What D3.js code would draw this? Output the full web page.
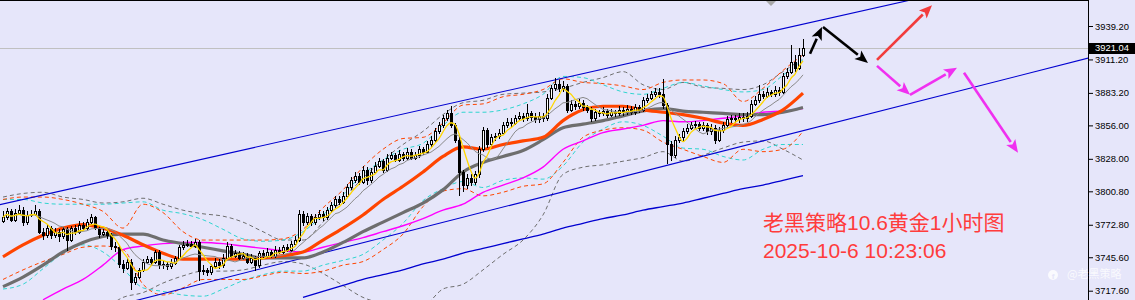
<!DOCTYPE html>
<html><head><meta charset="utf-8">
<script src="https://cdn.jsdelivr.net/npm/d3@7"></script>
<style>body{margin:0;background:#E6E6FA;overflow:hidden}svg{display:block}</style>
</head><body><svg id="c" width="1135" height="300"></svg>
<script>
// ---------- DATA ----------
const firstOpen = 3776;
const closes = [
3779,3784,3777,3783,3785,3775,3781,3782,3784,3767,
3764,3770,3764,3767,3763,3769,3760,3770,3767,3773,
3770,3775,3779,3770,3765,3767,3764,3755,3754,3740,
3737,3742,3725,3729,3735,3742,3744,3742,3750,3739,
3740,3738,3741,3745,3754,3756,3757,3755,3758,3734,
3735,3733,3738,3742,3739,3745,3755,3747,3749,3745,
3747,3742,3745,3739,3749,3747,3750,3747,3752,3750,
3754,3752,3757,3760,3782,3775,3780,3775,3779,3782,
3779,3785,3789,3794,3792,3797,3804,3810,3814,3809,
3819,3810,3817,3822,3826,3819,3829,3831,3827,3832,
3829,3834,3829,3831,3836,3834,3840,3844,3851,3856,
3862,3866,3856,3844,3817,3806,3812,3809,3815,3836,
3852,3840,3846,3847,3850,3856,3859,3858,3862,3864,
3862,3866,3863,3861,3864,3862,3879,3887,3891,3887,
3889,3869,3874,3872,3875,3871,3869,3862,3867,3866,
3868,3865,3867,3866,3869,3867,3870,3867,3871,3869,
3877,3879,3882,3884,3882,3873,3840,3831,3844,3846,
3851,3854,3856,3857,3854,3856,3851,3854,3844,3852,
3856,3861,3862,3861,3863,3862,3864,3874,3877,3882,
3881,3884,3882,3886,3884,3897,3901,3909,3904,3915,
3921.04];
const highs = [
3784,3787,3786,3786,3789,3788,3784,3785,3789,3786,
3770,3773,3772,3770,3769,3771,3771,3772,3773,3776,
3775,3778,3782,3780,3772,3770,3769,3766,3758,3756,
3743,3745,3744,3732,3737,3744,3747,3746,3752,3752,
3743,3742,3744,3747,3756,3759,3760,3759,3761,3760,
3739,3737,3740,3745,3744,3748,3758,3757,3752,3751,
3750,3749,3748,3747,3751,3752,3753,3752,3755,3754,
3756,3757,3759,3763,3785,3784,3783,3782,3782,3785,
3784,3788,3792,3797,3797,3800,3807,3813,3817,3816,
3822,3821,3820,3825,3829,3828,3832,3834,3833,3835,
3834,3837,3836,3834,3839,3838,3843,3847,3854,3859,
3865,3869,3872,3858,3846,3819,3815,3815,3818,3839,
3855,3854,3849,3850,3853,3859,3862,3862,3865,3867,
3866,3874,3868,3866,3867,3866,3882,3890,3896,3894,
3893,3891,3877,3876,3878,3877,3873,3871,3870,3869,
3871,3870,3870,3869,3872,3871,3873,3872,3874,3873,
3880,3882,3885,3887,3887,3895,3875,3843,3847,3849,
3854,3857,3859,3860,3859,3859,3858,3857,3856,3855,
3859,3864,3865,3865,3866,3866,3867,3877,3881,3890,
3885,3887,3886,3889,3888,3900,3904,3923,3915,3921,
3928];
const lows = [
3774,3777,3775,3775,3781,3772,3773,3779,3780,3765,
3760,3762,3761,3762,3758,3761,3751,3758,3764,3765,
3768,3768,3773,3768,3762,3763,3761,3752,3750,3737,
3732,3735,3718,3722,3727,3733,3740,3739,3740,3736,
3736,3735,3736,3739,3743,3752,3754,3753,3753,3726,
3731,3730,3731,3736,3736,3737,3743,3745,3745,3743,
3743,3740,3740,3734,3737,3745,3745,3745,3745,3748,
3748,3750,3750,3755,3758,3772,3773,3772,3773,3777,
3776,3777,3783,3787,3789,3790,3795,3802,3808,3806,
3807,3806,3808,3815,3820,3816,3817,3827,3825,3825,
3826,3827,3827,3827,3829,3831,3832,3838,3842,3849,
3854,3860,3854,3841,3797,3800,3803,3805,3806,3812,
3834,3837,3838,3843,3845,3848,3854,3855,3856,3860,
3859,3860,3860,3858,3858,3859,3860,3877,3885,3884,
3884,3866,3867,3869,3870,3868,3866,3859,3860,3863,
3864,3862,3863,3863,3864,3864,3865,3865,3865,3866,
3867,3875,3877,3880,3879,3870,3824,3826,3829,3841,
3843,3849,3852,3853,3851,3851,3848,3848,3840,3842,
3850,3854,3858,3858,3858,3859,3859,3862,3872,3875,
3878,3879,3880,3880,3881,3882,3895,3899,3901,3902,
3913];

// indicator lines, one value every 5 candles
const sampleStep = 5;
const maOrange = [3746,3756,3764,3770,3773,3770,3764,3756,3749,3744,3744,3744,3744,3745,3747,3750,3760,3770,3781,3794,3805,3817,3830,3838,3836,3840,3843,3846,3860,3869,3872,3872,3869,3867,3865,3862,3858,3856,3861,3869,3883];
const maGray = [3721,3729,3739,3750,3758,3763,3765,3765,3760,3757,3754,3751,3748,3745,3745,3745,3750,3758,3767,3775,3783,3791,3802,3817,3825,3830,3835,3844,3854,3857,3860,3864,3868,3870,3868,3867,3866,3865,3865,3867,3871];
const maMagentaStart = 10;
const maMagenta = [3710,3719,3727,3739,3752,3755,3757,3758,3758,3757,3755,3753,3751,3750,3754,3758,3762,3767,3772,3778,3785,3790,3800,3806,3812,3821,3836,3843,3850,3853,3856,3860,3859,3860,3862,3864,3867,3868,3870];
const maBlueStart = 75;
const maBlue = [3712,3717,3722,3727,3731,3735,3740,3744,3749,3753,3757,3761,3765,3770,3774,3778,3781,3785,3788,3791,3795,3799,3803,3806,3810,3814];
const bandOrangeUp = [3794,3796,3796,3794,3790,3784,3770,3790,3783,3767,3760,3760,3760,3760,3761,3769,3787,3802,3821,3836,3845,3846,3858,3873,3874,3880,3882,3886,3895,3892,3891,3889,3886,3892,3894,3894,3891,3876,3887,3902,3915];
const bandOrangeDn = [3727,3735,3742,3748,3754,3755,3752,3723,3714,3720,3727,3727,3727,3730,3733,3732,3734,3739,3742,3752,3765,3788,3801,3803,3797,3800,3805,3807,3825,3846,3852,3854,3852,3842,3836,3830,3825,3836,3834,3836,3851];
const bandCyanUp = [3794,3794,3791,3790,3790,3790,3791,3792,3785,3782,3777,3769,3761,3759,3760,3767,3781,3798,3815,3827,3836,3841,3856,3867,3867,3869,3874,3882,3897,3896,3890,3884,3882,3887,3892,3889,3886,3884,3886,3898,3911];
const bandCyanDn = [3719,3723,3736,3749,3756,3750,3736,3720,3717,3714,3713,3719,3726,3731,3734,3734,3739,3743,3748,3760,3774,3793,3803,3809,3804,3810,3812,3811,3822,3842,3853,3859,3856,3847,3837,3836,3830,3827,3836,3840,3840];
const bandGrayUp = [3796,3799,3800,3796,3794,3791,3792,3795,3790,3785,3782,3780,3775,3767,3760,3760,3775,3794,3812,3827,3840,3851,3865,3875,3877,3882,3883,3884,3887,3892,3896,3901,3890,3886,3892,3888,3887,3886,3890,3901,3912];
const bandGrayDn = [3685,3689,3693,3693,3698,3702,3712,3716,3724,3730,3734,3734,3735,3739,3742,3740,3732,3722,3712,3707,3704,3705,3719,3723,3735,3748,3760,3781,3815,3821,3823,3826,3829,3834,3826,3831,3837,3842,3843,3836,3827];

const yTicks = [3939.20, 3911.20, 3883.20, 3856.00, 3828.00, 3800.80, 3772.80, 3745.60, 3717.60];
const lastPrice = 3921.04;
// trend channel: [candle index, price]
const channelUpper = [[-1, 3789.5], [272, 3994.9]];
const channelLower = [[-1, 3680.2], [272, 3912.9]];
// forecast arrows: [candle index, price] -> [candle index, price]
const arrows = [
  {from:[201.75,3915.9], to:[204.75,3938.4], color:"#000000"},
  {from:[205.0,3938.4], to:[216.25,3908.3], color:"#000000"},
  {from:[218.5,3910.8], to:[232.25,3956.5], color:"#F23C3C"},
  {from:[218.5,3905.8], to:[226.75,3881.6], color:"#F030F0"},
  {from:[226.75,3881.6], to:[238.5,3904.2], color:"#F030F0"},
  {from:[240.25,3900.0], to:[253.75,3833.1], color:"#F030F0"}
];
const title1 = "老黑策略10.6黄金1小时图";
const title2 = "2025-10-6 10:23:06";
const watermark = "@老黑策略";

// ---------- DRAW ----------
const W = 1135, H = 300, axisX = 1088;
const svg = d3.select("#c");
svg.append("rect").attr("width", W).attr("height", H).attr("fill", "#E6E6FA");

const x = d3.scaleLinear().domain([0, 200]).range([3, 803]);
const y = d3.scaleLinear().domain([3717.6, 3939.2]).range([290.7, 26]);

svg.append("clipPath").attr("id", "clip").append("rect").attr("x", 0).attr("y", 1).attr("width", axisX).attr("height", H);
const plot = svg.append("g").attr("clip-path", "url(#clip)");

// current price line
plot.append("line").attr("x1", 0).attr("x2", axisX).attr("y1", Math.round(y(lastPrice)) + 0.5).attr("y2", Math.round(y(lastPrice)) + 0.5)
  .attr("stroke", "#C0C0C0").attr("stroke-width", 1);

const sampled = (arr, start) => arr.map((v, k) => [start + k * sampleStep, v]);
const lineGen = d3.line().x(d => x(d[0])).y(d => y(d[1])).curve(d3.curveMonotoneX);
const lineStraight = d3.line().x(d => x(d[0])).y(d => y(d[1]));

function drawLine(data, color, width, dash, gen) {
  plot.append("path").attr("d", (gen || lineGen)(data)).attr("fill", "none")
    .attr("stroke", color).attr("stroke-width", width).attr("stroke-dasharray", dash || null)
    .attr("stroke-linejoin", "round");
}

// dashed envelopes
drawLine(sampled(bandGrayUp, 0), "#6E6E6E", 1, "4,3");
drawLine(sampled(bandGrayDn, 0), "#6E6E6E", 1, "4,3");
drawLine(sampled(bandCyanUp, 0), "#30D5D0", 1, "4,3");
drawLine(sampled(bandCyanDn, 0), "#30D5D0", 1, "4,3");
drawLine(sampled(bandOrangeUp, 0), "#FF4500", 1, "4,3");
drawLine(sampled(bandOrangeDn, 0), "#FF4500", 1, "4,3");

// channel
drawLine(channelUpper, "#0000D0", 1.1, null, lineStraight);
drawLine(channelLower, "#0000D0", 1.1, null, lineStraight);

// moving averages
drawLine(sampled(maBlue, maBlueStart), "#0000D0", 1.3);
drawLine(sampled(maMagenta, maMagentaStart), "#FF00FF", 1.4);
drawLine(sampled(maGray, 0), "#6E6E6E", 3.2);
drawLine(sampled(maOrange, 0), "#FF4500", 3.2);

// candles
const candles = closes.map((c, i) => ({i, o: i === 0 ? firstOpen : closes[i - 1], c, h: highs[i], l: lows[i]}));
const cg = plot.append("g").attr("shape-rendering", "crispEdges");
cg.selectAll("line.w").data(candles).join("line")
  .attr("x1", d => Math.round(x(d.i)) + 0.5).attr("x2", d => Math.round(x(d.i)) + 0.5)
  .attr("y1", d => y(d.h)).attr("y2", d => y(d.l)).attr("stroke", "#000");
cg.selectAll("rect.b").data(candles).join("rect")
  .attr("x", d => Math.round(x(d.i)) - 1 + 0.5)
  .attr("y", d => Math.round(y(Math.max(d.o, d.c))) + 0.5)
  .attr("width", 2)
  .attr("height", d => Math.max(1, Math.round(y(Math.min(d.o, d.c))) - Math.round(y(Math.max(d.o, d.c)))))
  .attr("fill", d => d.c >= d.o ? "#FFFFFF" : "#000000").attr("stroke", "#000");

// fast averages of the closes (MA5 yellow, MA10 thin gray)
function sma(n) { return closes.map((c, i) => [i, d3.mean(closes.slice(Math.max(0, i - n + 1), i + 1))]); }
drawLine(sma(10), "#8A8A8A", 1, null, lineStraight);
drawLine(sma(5), "#FFD700", 1.3, null, d3.line().x(d => x(d[0])).y(d => y(d[1])).curve(d3.curveMonotoneX));

// arrows
const ag = plot.append("g");
arrows.forEach(a => {
  const x1 = x(a.from[0]), y1 = y(a.from[1]), x2 = x(a.to[0]), y2 = y(a.to[1]);
  const len = Math.hypot(x2 - x1, y2 - y1), ux = (x2 - x1) / len, uy = (y2 - y1) / len;
  const hl = 13, hw = 5.5;
  const bx = x2 - ux * hl, by = y2 - uy * hl;
  ag.append("line").attr("x1", x1).attr("y1", y1).attr("x2", bx).attr("y2", by)
    .attr("stroke", a.color).attr("stroke-width", 2.6);
  ag.append("path").attr("d", `M${x2},${y2}L${bx - uy * hw},${by + ux * hw}L${bx + ux * 3},${by + uy * 3}L${bx + uy * hw},${by - ux * hw}Z`)
    .attr("fill", a.color);
});

// top marker
plot.append("path").attr("d", `M765,0L777,0L771,6Z`).attr("fill", "#A8A8A8");

// titles
const titleFont = "'Liberation Sans', 'Noto Sans CJK SC', sans-serif";
svg.append("text").attr("x", 763).attr("y", 230).attr("fill", "#FF3C3C")
  .attr("font-family", titleFont).attr("font-size", 21).text(title1);
svg.append("text").attr("x", 763).attr("y", 258).attr("fill", "#FF3C3C")
  .attr("font-family", titleFont).attr("font-size", 21).text(title2);

// border + axis
svg.append("line").attr("x1", 0).attr("x2", axisX).attr("y1", 0.5).attr("y2", 0.5).attr("stroke", "#000");
svg.append("line").attr("x1", axisX + 0.5).attr("x2", axisX + 0.5).attr("y1", 0).attr("y2", H).attr("stroke", "#000");
const ax = svg.append("g").attr("transform", `translate(${axisX + 1},0)`)
  .call(d3.axisRight(y).tickValues(yTicks).tickFormat(d3.format(".2f")).tickSize(4).tickSizeOuter(0).tickPadding(2));
ax.select(".domain").remove();
ax.selectAll("text").attr("font-family", "'Liberation Sans', Arial, sans-serif").attr("font-size", 9.4).attr("fill", "#000");
ax.selectAll("line").attr("stroke", "#000");

// last price label
const ly = y(lastPrice);
svg.append("rect").attr("x", axisX + 1).attr("y", Math.round(ly) - 5).attr("width", W - axisX - 1).attr("height", 11).attr("fill", "#000");
svg.append("text").attr("x", axisX + 7).attr("y", ly).attr("dy", "0.35em").attr("fill", "#fff")
  .attr("font-family", "'Liberation Sans', Arial, sans-serif").attr("font-size", 9.4).text(d3.format(".2f")(lastPrice));

// watermark
const wm = svg.append("g").attr("opacity", 0.8);
wm.append("circle").attr("cx", 1053).attr("cy", 275).attr("r", 5).attr("fill", "#fff");
wm.append("text").attr("x", 1053).attr("y", 278.5).attr("text-anchor", "middle").attr("fill", "#E6E6FA")
  .attr("font-family", "'Liberation Sans', sans-serif").attr("font-weight", "bold").attr("font-size", 8).text("f");
wm.append("text").attr("x", 1067).attr("y", 278).attr("fill", "#fff")
  .attr("font-family", "'Noto Sans CJK SC', sans-serif").attr("font-size", 11).text(watermark);
</script></body></html>
